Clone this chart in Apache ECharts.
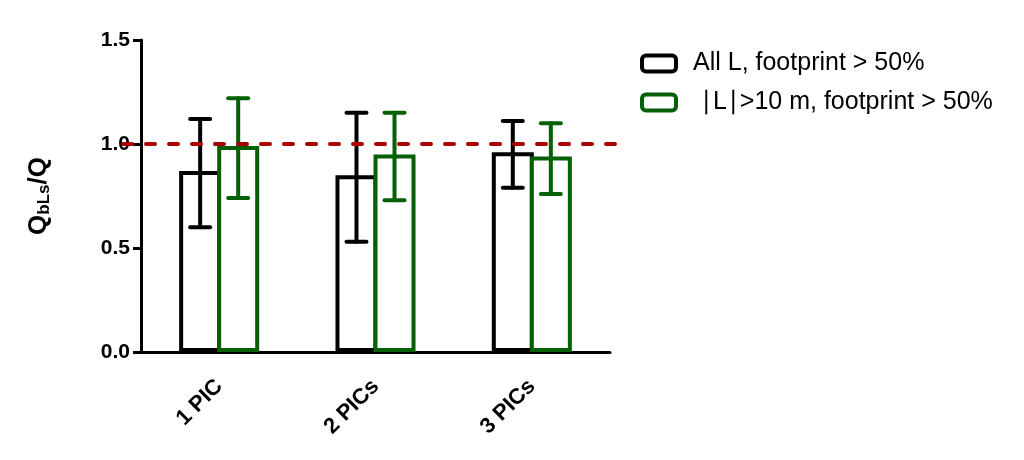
<!DOCTYPE html>
<html>
<head>
<meta charset="utf-8">
<script src="https://cdn.jsdelivr.net/npm/echarts@6/dist/echarts.min.js"></script>
<style>html,body{margin:0;padding:0;background:#fff}#c{width:1024px;height:460px}</style>
</head>
<body>
<div id="c"></div>
<script>
const categories = ['1 PIC', '2 PICs', '3 PICs'];
const seriesNames = ['All L, footprint > 50%', '|L|>10 m, footprint > 50%'];
const allMean = [0.87, 0.85, 0.96];
const allLow  = [0.60, 0.53, 0.79];
const allHigh = [1.12, 1.15, 1.11];
const bigMean = [0.99, 0.95, 0.94];
const bigLow  = [0.74, 0.73, 0.76];
const bigHigh = [1.22, 1.15, 1.10];
const referenceValue = 1.0;
const yTicks = [0, 0.5, 1.0, 1.5];

const BLACK = '#000000';
const GREEN = '#056005';
const RED = '#aa0000';
const FONT = 'Liberation Sans, Arial, sans-serif';
const CAT_GAP = 0.488;
const BAR_GAP = -0.095;

function errorSeries(low, high, color, side) {
  return {
    type: 'custom',
    xAxisIndex: 0, yAxisIndex: 0,
    z: 5,
    silent: true,
    data: low.map((l, i) => [i, l, high[i]]),
    renderItem: function (params, api) {
      const band = api.size([1, 0])[0];
      const barW = band * (1 - CAT_GAP) / (2 + BAR_GAP);
      const off = barW * (1 + BAR_GAP) / 2;
      const lo = api.coord([api.value(0), api.value(1)]);
      const hi = api.coord([api.value(0), api.value(2)]);
      const x = lo[0] + side * off;
      const cap = 10;
      const style = { stroke: color, lineWidth: 4, lineCap: 'round' };
      return {
        type: 'group',
        children: [
          { type: 'line', shape: { x1: x, y1: lo[1], x2: x, y2: hi[1] }, style: style },
          { type: 'line', shape: { x1: x - cap, y1: hi[1], x2: x + cap, y2: hi[1] }, style: style },
          { type: 'line', shape: { x1: x - cap, y1: lo[1], x2: x + cap, y2: lo[1] }, style: style }
        ]
      };
    }
  };
}

const chart = echarts.init(document.getElementById('c'));
chart.setOption({
  animation: false,
  backgroundColor: '#fff',
  textStyle: { fontFamily: FONT },
  grid: [
    { left: 141, right: 414, top: 40, bottom: 108 },
    { left: 123, right: 401, top: 40, bottom: 108 }
  ],
  legend: {
    left: 635, top: 46,
    orient: 'vertical',
    itemWidth: 34, itemHeight: 16, itemGap: 14,
    icon: 'roundRect',
    data: seriesNames,
    itemStyle: { borderWidth: 4, color: '#fff' },
    textStyle: {
      fontFamily: FONT, fontSize: 25, color: '#000', lineHeight: 24,
      padding: [0, 0, 0, 12],
      rich: {
        s: { fontFamily: 'Liberation Serif, Times New Roman, serif', fontSize: 25, color: '#000', lineHeight: 24 },
        n: { fontFamily: FONT, fontSize: 25, color: '#000', lineHeight: 24 }
      }
    },
    formatter: function (name) {
      if (name === seriesNames[1]) {
        return '{n| }{s|\u2223}{n|L}{s|\u2223}{n|>10 m, footprint > 50%}';
      }
      return name;
    }
  },
  xAxis: [
    {
      type: 'category', gridIndex: 0, data: categories,
      axisLine: { lineStyle: { color: '#000', width: 3 } },
      axisTick: { alignWithLabel: true, length: 9, lineStyle: { color: '#000', width: 3 } },
      axisLabel: { rotate: 45, margin: 31, fontSize: 22, fontWeight: 'bold', color: '#000', fontFamily: FONT }
    },
    { type: 'value', gridIndex: 1, min: 0, max: 1, show: false }
  ],
  yAxis: [
    {
      type: 'value', gridIndex: 0, min: 0, max: 1.5, interval: 0.5,
      name: 'Q{sub|bLs}/Q',
      nameLocation: 'middle', nameGap: 88, nameRotate: 90,
      nameTextStyle: {
        fontSize: 26, fontWeight: 'bold', color: '#000', fontFamily: FONT,
        rich: { sub: { fontSize: 17, fontWeight: 'bold', color: '#000', fontFamily: FONT, verticalAlign: 'bottom', padding: [12, 0, 0, 0] } }
      },
      splitLine: { show: false },
      axisLine: { show: true, lineStyle: { color: '#000', width: 3 } },
      axisTick: { show: true, length: 8, lineStyle: { color: '#000', width: 3 } },
      axisLabel: {
        fontSize: 21, fontWeight: 'bold', color: '#000', margin: 11, fontFamily: FONT,
        formatter: v => yTicks.indexOf(v) >= 0 ? v.toFixed(1) : ''
      }
    },
    { type: 'value', gridIndex: 1, min: 0, max: 1.5, show: false }
  ],
  series: [
    {
      name: seriesNames[0], type: 'bar', data: allMean,
      xAxisIndex: 0, yAxisIndex: 0,
      barGap: (BAR_GAP * 100) + '%', barCategoryGap: (CAT_GAP * 100) + '%',
      itemStyle: { color: '#fff', borderColor: BLACK, borderWidth: 4 },
      z: 2
    },
    {
      name: seriesNames[1], type: 'bar', data: bigMean,
      xAxisIndex: 0, yAxisIndex: 0,
      barGap: (BAR_GAP * 100) + '%', barCategoryGap: (CAT_GAP * 100) + '%',
      itemStyle: { color: '#fff', borderColor: GREEN, borderWidth: 4 },
      z: 3
    },
    errorSeries(allLow, allHigh, BLACK, -1),
    errorSeries(bigLow, bigHigh, GREEN, 1),
    {
      type: 'line', xAxisIndex: 1, yAxisIndex: 1, z: 10,
      data: [[0, referenceValue], [1, referenceValue]],
      symbol: 'none', silent: true,
      lineStyle: { color: RED, width: 4, type: [9, 14], cap: 'round' }
    }
  ]
});
</script>
</body>
</html>
